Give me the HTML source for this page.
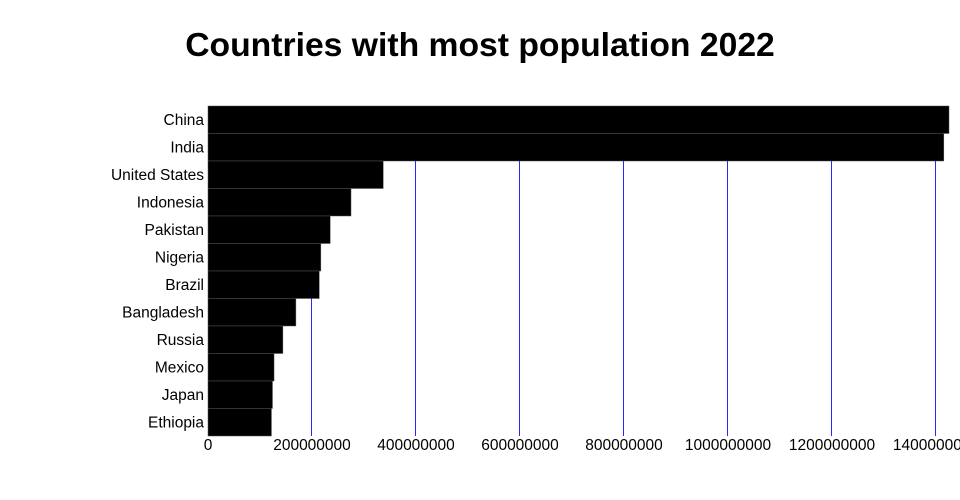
<!DOCTYPE html>
<html><head><meta charset="utf-8"><style>
html,body{margin:0;padding:0;background:#fff;width:960px;height:500px;overflow:hidden}
svg text{font-family:"Liberation Sans","DejaVu Sans",sans-serif}
</style></head><body>
<svg id="chart" width="960" height="500">
<text x="480" y="56" text-anchor="middle" font-size="33.7" font-weight="bold" fill="#000">Countries with most population 2022</text>
<g id="grid"></g>
<g id="bars"></g>
<g id="ylabels"></g>
<g id="xlabels"></g>
</svg>
<script>
const categories=["China","India","United States","Indonesia","Pakistan","Nigeria","Brazil","Bangladesh","Russia","Mexico","Japan","Ethiopia"];
const populations=[1425000000,1415000000,337000000,275000000,235000000,217000000,214000000,169000000,144000000,127000000,124000000,122000000];
const xTicks=[0,200000000,400000000,600000000,800000000,1000000000,1200000000,1400000000];
const xTickLabels=["0","200000000","400000000","600000000","800000000","1000000000","1200000000","1400000000"];
const NS="http://www.w3.org/2000/svg";
const plotLeft=208,plotTop=106,plotBottom=436,pxPer=104/200000000;
const xScale=v=>plotLeft+v*pxPer;
const band=(plotBottom-plotTop)/categories.length;
const yScale=i=>plotTop+i*band;
function mk(tag,attrs,parent){const e=document.createElementNS(NS,tag);for(const k in attrs)e.setAttribute(k,attrs[k]);document.getElementById(parent).appendChild(e);return e;}
xTicks.forEach((t,i)=>{
 if(i>0){const gx=Math.round(xScale(t))-1;const l=mk('rect',{x:gx,y:plotTop,width:1,height:plotBottom-plotTop,fill:'#2a2aff'},'grid');
 
 }
 const tx=mk('text',{x:xScale(t),y:450,'text-anchor':'middle','font-size':15.5,fill:'#000'},'xlabels');
 tx.textContent=xTickLabels[i];
 
 
});
categories.forEach((c,i)=>{
 const r=mk('rect',{x:plotLeft,y:yScale(i),width:xScale(populations[i])-plotLeft,height:band,fill:'#000',stroke:'#555','stroke-width':0.5},'bars');
 
 
 const t=mk('text',{x:204,y:yScale(i)+band/2+5,'text-anchor':'end','font-size':15.5,fill:'#000'},'ylabels');
 t.textContent=c;
 
 
});
</script>
</body></html>
